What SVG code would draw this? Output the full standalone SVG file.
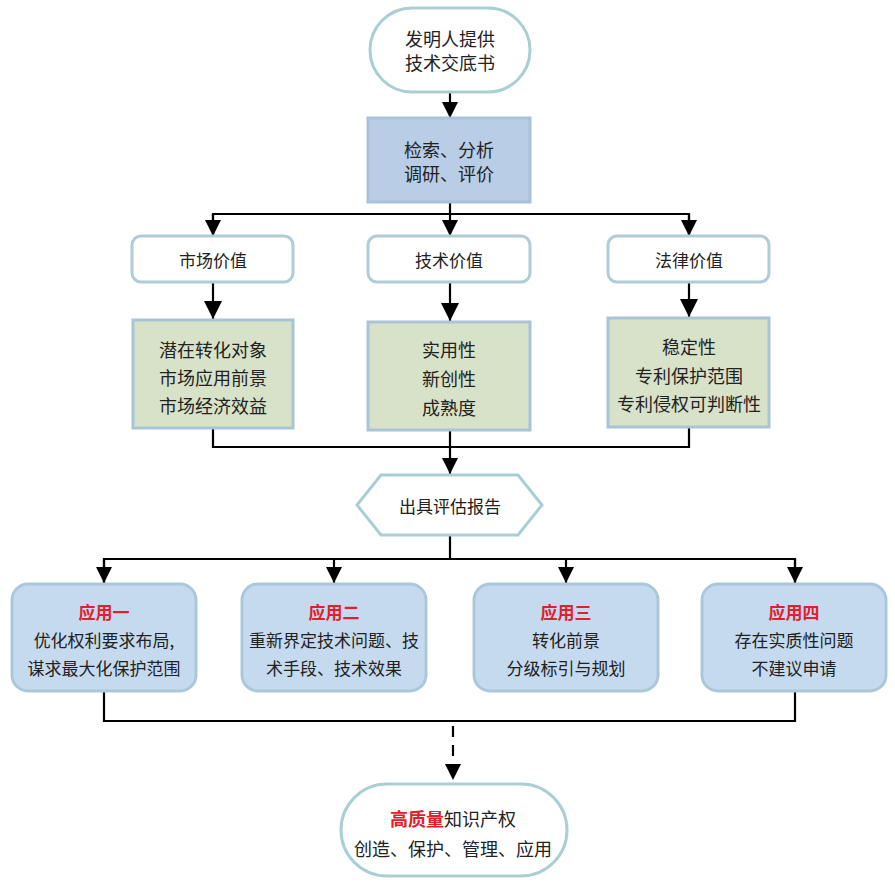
<svg xmlns="http://www.w3.org/2000/svg" width="895" height="886" viewBox="0 0 895 886">
<style>
text{font-family:"Noto Sans CJK SC","Noto Sans",sans-serif;fill:#222;text-anchor:middle;dominant-baseline:central}
.t18{font-size:18px}
.t17{font-size:17px}
.red{fill:#e0202a;font-weight:bold}
.term{fill:#ffffff;stroke:#a9cfd5;stroke-width:3}
.blue{fill:#b9cde6;stroke:#a8c2d8;stroke-width:3}
.val{fill:#ffffff;stroke:#b0ccd8;stroke-width:3}
.green{fill:#d8e2c8;stroke:#a9c4d6;stroke-width:3}
.app{fill:#c6daef;stroke:#aac8da;stroke-width:3}
.ln{fill:none;stroke:#000;stroke-width:2.2}
</style>
<defs>
<marker id="arr" viewBox="0 0 10 10" refX="10" refY="5" markerWidth="16" markerHeight="16" orient="auto" markerUnits="userSpaceOnUse">
<path d="M0,0 L10,5 L0,10 Z" fill="#000"/>
</marker>
<marker id="big" viewBox="0 0 10 10" refX="10" refY="5" markerWidth="18" markerHeight="18" orient="auto" markerUnits="userSpaceOnUse">
<path d="M0,0 L10,5 L0,10 Z" fill="#000"/>
</marker>
</defs>
<rect width="895" height="886" fill="#ffffff"/>
<g id="connectors">
<line class="ln" x1="450" y1="92" x2="450" y2="118" marker-end="url(#arr)"/>
<line class="ln" x1="450" y1="202" x2="450" y2="236" marker-end="url(#arr)"/>
<polyline class="ln" points="213,236 213,214 689,214 689,236"/>
<line class="ln" x1="213" y1="214" x2="213" y2="236" marker-end="url(#arr)"/>
<line class="ln" x1="689" y1="214" x2="689" y2="236" marker-end="url(#arr)"/>
<line class="ln" x1="213" y1="282" x2="213" y2="319" marker-end="url(#big)"/>
<line class="ln" x1="450" y1="282" x2="450" y2="321" marker-end="url(#big)"/>
<line class="ln" x1="689" y1="282" x2="689" y2="317" marker-end="url(#big)"/>
<polyline class="ln" points="213,429 213,447 689,447 689,428"/>
<line class="ln" x1="450" y1="430" x2="450" y2="474" marker-end="url(#arr)"/>
<line class="ln" x1="450" y1="536" x2="450" y2="559"/>
<polyline class="ln" points="104,583 104,559 795,559 795,583"/>
<line class="ln" x1="104" y1="559" x2="104" y2="583" marker-end="url(#arr)"/>
<line class="ln" x1="334" y1="559" x2="334" y2="583" marker-end="url(#arr)"/>
<line class="ln" x1="566" y1="559" x2="566" y2="583" marker-end="url(#arr)"/>
<line class="ln" x1="795" y1="559" x2="795" y2="583" marker-end="url(#arr)"/>
<polyline class="ln" points="104,691 104,721 795,721 795,691"/>
<line class="ln" x1="453" y1="726" x2="453" y2="780" stroke-width="3" stroke-dasharray="11,8" marker-end="url(#arr)"/>
</g>
<g id="start">
<rect class="term" x="370" y="8" width="160" height="84" rx="42"/>
<text class="t18" x="450" y="38">发明人提供</text>
<text class="t18" x="450" y="62">技术交底书</text>
</g>
<g id="search">
<rect class="blue" x="368" y="118" width="162" height="84"/>
<text class="t18" x="449" y="149">检索、分析</text>
<text class="t18" x="449" y="173">调研、评价</text>
</g>
<g id="market">
<rect class="val" x="132" y="236" width="161" height="46" rx="9"/>
<text class="t17" x="213" y="259">市场价值</text>
</g>
<g id="tech">
<rect class="val" x="368" y="236" width="162" height="46" rx="9"/>
<text class="t17" x="449" y="259">技术价值</text>
</g>
<g id="law">
<rect class="val" x="608" y="236" width="161" height="46" rx="9"/>
<text class="t17" x="689" y="259">法律价值</text>
</g>
<g id="market-detail">
<rect class="green" x="133" y="320" width="160" height="108"/>
<text class="t18" x="213" y="349">潜在转化对象</text>
<text class="t18" x="213" y="377">市场应用前景</text>
<text class="t18" x="213" y="405">市场经济效益</text>
</g>
<g id="tech-detail">
<rect class="green" x="368" y="322" width="162" height="108"/>
<text class="t18" x="449" y="349">实用性</text>
<text class="t18" x="449" y="378">新创性</text>
<text class="t18" x="449" y="407">成熟度</text>
</g>
<g id="law-detail">
<rect class="green" x="608" y="318" width="161" height="109"/>
<text class="t18" x="689" y="346">稳定性</text>
<text class="t18" x="689" y="375">专利保护范围</text>
<text class="t18" x="689" y="403">专利侵权可判断性</text>
</g>
<g id="report">
<polygon class="term" points="357,505 381,475 518,475 542,505 518,535 381,535"/>
<text class="t17" x="450" y="505">出具评估报告</text>
</g>
<g id="app1">
<rect class="app" x="12" y="584" width="184" height="107" rx="16"/>
<text class="t17 red" x="104" y="611">应用一</text>
<text class="t17" x="104" y="639">优化权利要求布局,</text>
<text class="t17" x="104" y="667">谋求最大化保护范围</text>
</g>
<g id="app2">
<rect class="app" x="242" y="584" width="184" height="107" rx="16"/>
<text class="t17 red" x="334" y="611">应用二</text>
<text class="t17" x="334" y="639">重新界定技术问题、技</text>
<text class="t17" x="334" y="667">术手段、技术效果</text>
</g>
<g id="app3">
<rect class="app" x="474" y="584" width="184" height="107" rx="16"/>
<text class="t17 red" x="566" y="611">应用三</text>
<text class="t17" x="566" y="639">转化前景</text>
<text class="t17" x="566" y="667">分级标引与规划</text>
</g>
<g id="app4">
<rect class="app" x="702" y="584" width="184" height="107" rx="16"/>
<text class="t17 red" x="794" y="611">应用四</text>
<text class="t17" x="794" y="639">存在实质性问题</text>
<text class="t17" x="794" y="667">不建议申请</text>
</g>
<g id="end">
<rect class="term" x="341" y="784" width="226" height="92" rx="46"/>
<text class="t18" x="453" y="818"><tspan class="red">高质量</tspan>知识产权</text>
<text class="t18" x="453" y="848">创造、保护、管理、应用</text>
</g>
</svg>
